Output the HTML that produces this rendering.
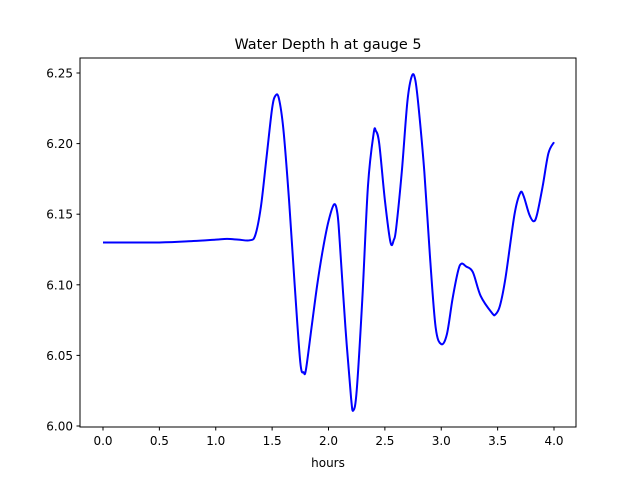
<!DOCTYPE html>
<html><head><meta charset="utf-8"><style>
body{margin:0;background:#fff;font-family:"Liberation Sans","DejaVu Sans",sans-serif}
text{font-family:"DejaVu Sans","Liberation Sans",sans-serif}
</style></head><body>
<svg id="chart" width="640" height="480" xmlns="http://www.w3.org/2000/svg">
<rect width="640" height="480" fill="#fff"/>
<text x="328" y="49" font-size="14.4" text-anchor="middle">Water Depth h at gauge 5</text>
<g id="axes"></g>
<path id="line" fill="none" stroke="#0000ff" stroke-width="2"/>
<rect x="80" y="58" width="496" height="369" fill="none" stroke="#000" stroke-width="1"/>
<text x="328" y="467" font-size="12" text-anchor="middle">hours</text>
</svg>
<script>
const hours=[0,0.5,0.8,1.0,1.1,1.2,1.3,1.35,1.4,1.45,1.5,1.53,1.56,1.6,1.65,1.7,1.75,1.78,1.8,1.85,1.9,1.95,2.0,2.05,2.08,2.1,2.15,2.2,2.22,2.25,2.3,2.35,2.4,2.42,2.45,2.5,2.55,2.58,2.6,2.65,2.7,2.74,2.77,2.8,2.85,2.9,2.95,3.0,3.05,3.1,3.15,3.18,3.22,3.28,3.35,3.45,3.48,3.52,3.57,3.65,3.7,3.73,3.78,3.82,3.85,3.9,3.95,4.0];
const depth=[6.130,6.130,6.131,6.132,6.1325,6.132,6.1315,6.135,6.155,6.19,6.225,6.234,6.232,6.21,6.16,6.10,6.045,6.038,6.04,6.07,6.10,6.125,6.145,6.157,6.15,6.13,6.07,6.02,6.011,6.025,6.09,6.17,6.207,6.209,6.2,6.16,6.13,6.132,6.14,6.18,6.23,6.248,6.245,6.225,6.18,6.12,6.07,6.058,6.065,6.09,6.11,6.115,6.113,6.109,6.092,6.08,6.079,6.085,6.105,6.15,6.165,6.163,6.15,6.145,6.15,6.17,6.193,6.201];
const xTicks=[0,0.5,1,1.5,2,2.5,3,3.5,4];
const xTickLabels=["0.0","0.5","1.0","1.5","2.0","2.5","3.0","3.5","4.0"];
const yTicks=[6.00,6.05,6.10,6.15,6.20,6.25];
const yTickLabels=["6.00","6.05","6.10","6.15","6.20","6.25"];
const X=v=>103+v*112.75;
const Y=v=>426-(v-6.0)*1412;
const NS="http://www.w3.org/2000/svg";
const ax=document.getElementById('axes');
function mk(t,a){const e=document.createElementNS(NS,t);for(const k in a)e.setAttribute(k,a[k]);return e;}
xTicks.forEach((v,i)=>{
 const l=mk('line',{x1:X(v),x2:X(v),y1:427,y2:430.5,stroke:'#000'});
 
 
 ax.appendChild(l);
 const t=mk('text',{x:X(v),y:445,'font-size':12,'text-anchor':'middle'});
 t.textContent=xTickLabels[i];
 
 
 ax.appendChild(t);
});
yTicks.forEach((v,i)=>{
 const l=mk('line',{x1:76.5,x2:80,y1:Y(v),y2:Y(v),stroke:'#000'});
 
 
 ax.appendChild(l);
 const t=mk('text',{x:73,y:Y(v)+4.5,'font-size':12,'text-anchor':'end'});
 t.textContent=yTickLabels[i];
 
 
 ax.appendChild(t);
});
const P=hours.map((h,i)=>[X(h),Y(depth[i])]);
let d='M'+P[0][0]+','+P[0][1];
for(let i=0;i<P.length-1;i++){
 const p0=P[Math.max(0,i-1)],p1=P[i],p2=P[i+1],p3=P[Math.min(P.length-1,i+2)];
 const c1=[p1[0]+(p2[0]-p0[0])/6,p1[1]+(p2[1]-p0[1])/6];
 const c2=[p2[0]-(p3[0]-p1[0])/6,p2[1]-(p3[1]-p1[1])/6];
 d+=`C${c1[0]},${c1[1]} ${c2[0]},${c2[1]} ${p2[0]},${p2[1]}`;
}
document.getElementById('line').setAttribute('d',d);
</script>
</body></html>
